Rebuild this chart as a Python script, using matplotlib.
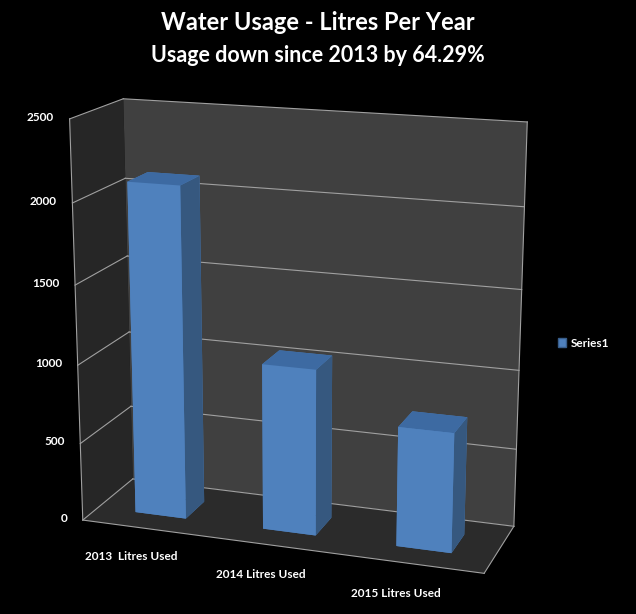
import numpy as np
import matplotlib.pyplot as plt
from matplotlib.patches import Patch

categories = ["2013  Litres Used", "2014 Litres Used", "2015 Litres Used"]
litres_used = [2100, 1050, 750]
y_ticks = [0, 500, 1000, 1500, 2000, 2500]
title = "Water Usage - Litres Per Year"
subtitle = "Usage down since 2013 by 64.29%"
series_name = "Series1"

plt.rcParams['font.family'] = ['Lato', 'DejaVu Sans']

fig = plt.figure(figsize=(6.36, 6.14), dpi=100, facecolor='black')
ax = fig.add_axes([-0.03, -0.032, 0.97, 0.97], projection='3d', computed_zorder=False)
ax.set_facecolor('black')
ax.view_init(elev=16, azim=-71)
ax.set_proj_type('persp', focal_length=0.6)
ax.set_box_aspect((3.15, 0.95, 3.1), zoom=0.995)

xmin, xmax = -0.5, len(categories) - 0.5
top = y_ticks[-1]
ax.set_xlim(xmin, xmax)
ax.set_ylim(0, 1)
ax.set_zlim(0, top)

# walls
ax.xaxis.set_pane_color('#262626')
ax.yaxis.set_pane_color('#404040')
ax.zaxis.set_pane_color('#2b2b2b')
for a in (ax.xaxis, ax.yaxis, ax.zaxis):
    a.pane.set_edgecolor('none')
    a.line.set_color((0, 0, 0, 0))
ax.grid(False)
ax.set_xticks([])
ax.set_yticks([])
ax.set_zticks([])

grid_c = '#a0a0a0'
for t in y_ticks:
    ax.plot([xmin, xmin], [0, 1], [t, t], color=grid_c, lw=0.8, zorder=1)
    ax.plot([xmin, xmax], [1, 1], [t, t], color=grid_c, lw=0.8, zorder=1)
ax.plot([xmin, xmin], [0, 0], [0, top], color=grid_c, lw=0.8, zorder=1)
ax.plot([xmax, xmax], [1, 1], [0, top], color=grid_c, lw=0.8, zorder=1)
ax.plot([xmin, xmax], [0, 0], [0, 0], color=grid_c, lw=0.8, zorder=1)
ax.plot([xmax, xmax], [0, 1], [0, 0], color=grid_c, lw=0.8, zorder=1)

# bars
xs = np.arange(len(categories)) - 0.2
face_cols = ['#4f81bd', '#3d6aa2', '#4f81bd', '#4f81bd', '#4f81bd', '#36587f']
ax.bar3d(xs, np.full(len(xs), 0.3), np.zeros(len(xs)), 0.4, 0.4, litres_used,
         color=face_cols * len(xs), shade=False, zorder=3, linewidth=0)

for t in y_ticks:
    ax.text(xmin - 0.12, 0, t, str(t), ha='right', va='center', color='white',
            fontsize=8.5, fontweight='bold', zorder=5)
for i, cat in enumerate(categories):
    ax.text(i - 0.12, 0, -200, cat, ha='center', va='center', color='white',
            fontsize=8.5, fontweight='bold', zorder=5)

fig.legend(handles=[Patch(facecolor='#4f81bd', edgecolor='#385d8a', label=series_name)],
           loc='center left', bbox_to_anchor=(0.86, 0.441), frameon=False,
           labelcolor='white', prop={'weight': 'bold', 'size': 8.5},
           handlelength=0.7, handleheight=0.7, handletextpad=0.4)

fig.text(0.5, 1 - 22 / 614, title, ha='center', va='center', fontsize=17,
         fontweight='bold', color='white')
fig.text(0.5, 1 - 55 / 614, subtitle, ha='center', va='center', fontsize=15.5,
         fontweight='bold', color='white')

fig.savefig('out.png', dpi=100, facecolor='black')
